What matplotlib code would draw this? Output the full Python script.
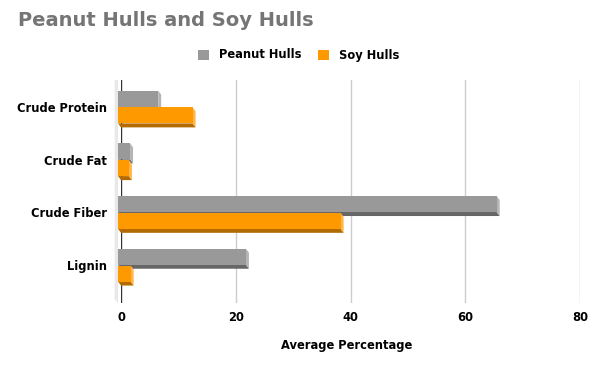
import numpy as np
import matplotlib.pyplot as plt
from matplotlib.patches import Polygon, Patch

# data
categories = ["Crude Protein", "Crude Fat", "Crude Fiber", "Lignin"]
peanut = [7.0, 2.1, 66.0, 22.3]
soy = [13.0, 1.9, 38.8, 2.2]
series_names = ["Peanut Hulls", "Soy Hulls"]
xticks = [0, 20, 40, 60, 80]

# colours: front face, bottom face, side face
peanut_cols = ("#999999", "#666666", "#b5b5b5")
soy_cols = ("#ff9900", "#b36b00", "#ffb547")

plt.rcParams['font.family'] = ['DejaVu Sans']
small = 8.3

W, H = 597, 369
fig = plt.figure(figsize=(W / 100, H / 100), dpi=100)
ax = fig.add_axes([121 / W, 1 - 303 / H, (580 - 121) / W, (303 - 80) / H])

ax.set_xlim(0, 80)
ax.set_ylim(3.72, -0.51)

# pixel -> data conversion for the 3d offsets
p0 = ax.transData.transform((0, 0))
p1 = ax.transData.transform((1, 1))
sx = abs(p1[0] - p0[0])
sy = abs(p1[1] - p0[1])
dx = 3 / sx
dy = 4 / sy
bh = 16 / sy   # bar height

# left wall
ax.add_patch(Polygon([(-2.1 * dx, -0.51), (-dx, -0.51), (-dx, 3.72), (-2.1 * dx, 3.72 - dy)],
                     closed=True, facecolor="#e8e8e8", edgecolor="none", clip_on=False, zorder=1))

# grid + zero line
for t in xticks[1:]:
    ax.axvline(t, color="#cccccc", lw=1, zorder=0)
ax.axvline(0, color="#333333", lw=1, zorder=1.5)


def bar3d(v, yt, cols, z):
    front, bottom, side = cols
    yb = yt + bh
    ax.add_patch(Polygon([(-dx, yb), (v - dx, yb), (v, yb + dy), (0, yb + dy)],
                         closed=True, facecolor=bottom, edgecolor="none", zorder=z, clip_on=False))
    ax.add_patch(Polygon([(v - dx, yt), (v, yt + dy), (v, yb + dy), (v - dx, yb)],
                         closed=True, facecolor=side, edgecolor="none", zorder=z, clip_on=False))
    ax.add_patch(Polygon([(-dx, yt), (v - dx, yt), (v - dx, yb), (-dx, yb)],
                         closed=True, facecolor=front, edgecolor="none", zorder=z + 0.1, clip_on=False))


for i in range(len(categories)):
    bar3d(peanut[i], i - bh - 0.3 / sy, peanut_cols, 2 + i)
    bar3d(soy[i], i + 0.5 / sy, soy_cols, 2.5 + i)

ax.set_xticks(xticks)
ax.set_xticklabels([str(t) for t in xticks], fontsize=small, fontweight="bold")
ax.set_yticks(range(len(categories)))
ax.set_yticklabels(categories, fontsize=small, fontweight="bold")
ax.tick_params(axis="both", length=0)
ax.tick_params(axis="y", pad=10)
ax.tick_params(axis="x", pad=6)
for s in ax.spines.values():
    s.set_visible(False)

fig.text(347 / W, 1 - 345 / H, "Average Percentage", ha="center", va="center",
         fontsize=small, fontweight="bold")

fig.text(18 / W, 1 - 21 / H, "Peanut Hulls and Soy Hulls", ha="left", va="center",
         fontsize=14, fontweight="bold", color="#757575")

handles = [Patch(facecolor=peanut_cols[0]), Patch(facecolor=soy_cols[0])]
fig.legend(handles, series_names, loc="center", bbox_to_anchor=(0.5, 1 - 55 / H),
           ncol=2, frameon=False, prop={"weight": "bold", "size": small},
           handlelength=0.95, handleheight=0.95, handletextpad=0.9, columnspacing=1.4)

fig.savefig("out.png", dpi=100)
